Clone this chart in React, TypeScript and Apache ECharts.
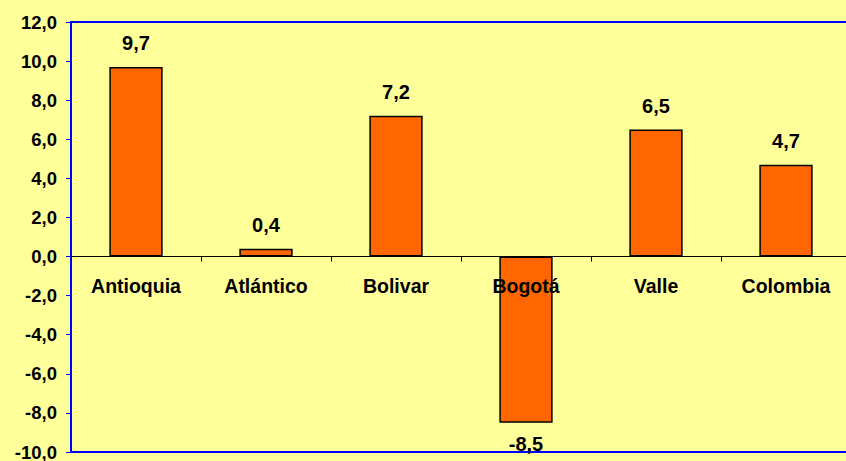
import React, { useEffect, useRef } from "react";
import * as echarts from "echarts";

const categories = ["Antioquia", "Atlántico", "Bolivar", "Bogotá", "Valle", "Colombia"];
const values = [9.7, 0.4, 7.2, -8.5, 6.5, 4.7];
const yMin = -10;
const yMax = 12;
const yStep = 2;

const fmt = (v: number) => v.toFixed(1).replace(".", ",");
const FONT = "'Liberation Sans', Arial, sans-serif";

export default function App() {
  const ref = useRef<HTMLDivElement>(null);
  useEffect(() => {
    if (!ref.current) return;
    const chart = echarts.init(ref.current, undefined, { renderer: "svg" });
    chart.setOption({
      animation: false,
      backgroundColor: "#FFFF99",
      grid: {
        left: 71,
        top: 22,
        width: 780,
        height: 430,
        show: true,
        borderColor: "#0000FF",
        borderWidth: 2,
        backgroundColor: "transparent",
        containLabel: false,
        outerBoundsMode: "none",
      },
      xAxis: {
        type: "category",
        data: categories,
        axisLine: { show: true, onZero: true, lineStyle: { color: "#000000", width: 1 } },
        axisTick: { show: true, length: 5, lineStyle: { color: "#000000" } },
        axisLabel: { show: false },
        splitLine: { show: false },
      },
      yAxis: {
        type: "value",
        min: yMin,
        max: yMax,
        interval: yStep,
        axisLine: { show: true, lineStyle: { color: "#0000FF", width: 2 } },
        axisTick: { show: true, length: 5, lineStyle: { color: "#0000FF", width: 1 } },
        axisLabel: {
          margin: 14,
          color: "#000000",
          fontFamily: FONT,
          fontWeight: "bold",
          fontSize: 18.5,
          formatter: (v: number) => fmt(v),
        },
        splitLine: { show: false },
      },
      series: [
        {
          type: "bar",
          barWidth: "41%",
          data: values.map((v) => ({
            value: v,
            label: v < 0 ? { position: "bottom", distance: 11 } : { position: "top", distance: 14 },
          })),
          itemStyle: { color: "#FF6600", borderColor: "#000000", borderWidth: 1.5 },
          label: {
            show: true,
            color: "#000000",
            fontFamily: FONT,
            fontWeight: "bold",
            fontSize: 20,
            formatter: (p: any) => fmt(p.value),
          },
          z: 2,
        },
        {
          type: "scatter",
          data: categories.map((c) => [c, 0]),
          symbol: "circle",
          symbolSize: 2,
          itemStyle: { color: "rgba(0,0,0,0)" },
          silent: true,
          z: 5,
          label: {
            show: true,
            position: "bottom",
            distance: 18,
            color: "#000000",
            opacity: 1,
            fontFamily: FONT,
            fontWeight: "bold",
            fontSize: 19.5,
            formatter: (p: any) => categories[p.dataIndex],
          },
        },
      ],
    });
    return () => chart.dispose();
  }, []);
  return (
    <div
      ref={ref}
      style={{ position: "fixed", left: 0, top: 0, width: 846, height: 461 }}
    />
  );
}
